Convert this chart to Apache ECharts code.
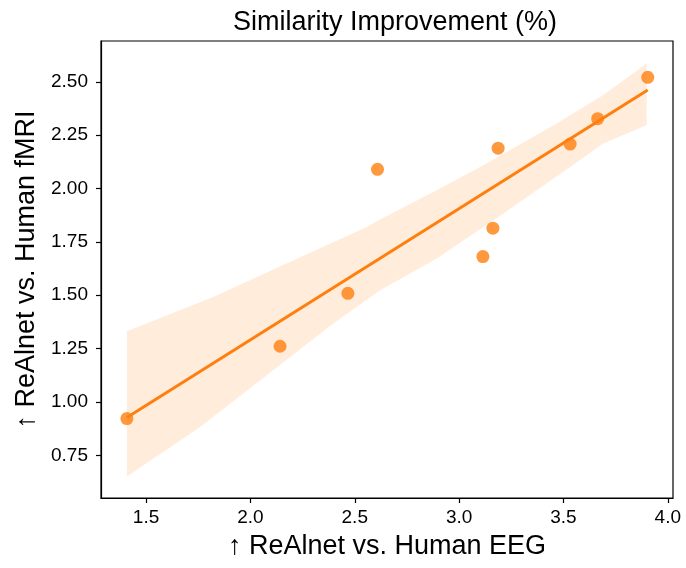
<!DOCTYPE html>
<html>
<head>
<meta charset="utf-8">
<script src="https://cdn.jsdelivr.net/npm/echarts@6/dist/echarts.min.js"></script>
<style>
  html, body { margin: 0; padding: 0; background: #fff; }
  #chart { width: 686px; height: 568px; }
</style>
</head>
<body>
<div id="chart"></div>
<script>
// scatter points (EEG improvement, fMRI improvement)
const eegX = [1.408, 2.142, 2.467, 2.609, 3.187, 3.162, 3.114, 3.532, 3.664, 3.904];
const fmriY = [0.922, 1.261, 1.509, 2.090, 2.189, 1.814, 1.681, 2.208, 2.327, 2.521];

// fitted line endpoints
const fitX = [1.408, 3.904];
const fitY = [0.927, 2.461];

// confidence band edges
const bandUpperX = [1.408, 1.822, 2.110, 2.558, 2.621, 2.893, 3.116, 3.468, 3.691, 3.899];
const bandUpperY = [1.331, 1.492, 1.620, 1.820, 1.855, 1.992, 2.109, 2.305, 2.438, 2.586];
const bandLowerX = [1.408, 1.759, 2.078, 2.397, 2.621, 2.893, 3.212, 3.532, 3.691, 3.899];
const bandLowerY = [0.651, 0.883, 1.125, 1.367, 1.523, 1.672, 1.883, 2.101, 2.211, 2.297];

const xTicks = [1.5, 2.0, 2.5, 3.0, 3.5, 4.0];
const yTicks = [0.75, 1.00, 1.25, 1.50, 1.75, 2.00, 2.25, 2.50];

const orange = '#ff7f0e';
const font = 'Liberation Sans, Arial, sans-serif';

const bandPts = [];
for (let i = 0; i < bandUpperX.length; i++) bandPts.push([bandUpperX[i], bandUpperY[i]]);
for (let i = bandLowerX.length - 1; i >= 0; i--) bandPts.push([bandLowerX[i], bandLowerY[i]]);

const chart = echarts.init(document.getElementById('chart'));
chart.setOption({
  animation: false,
  title: {
    text: 'Similarity Improvement (%)',
    left: 390, top: 4, textAlign: 'center',
    textStyle: { fontFamily: font, fontSize: 27, fontWeight: 'normal', color: '#000' }
  },
  grid: { left: 101, top: 41, right: 13, bottom: 70, show: true, borderColor: '#000', borderWidth: 1.2 },
  xAxis: {
    type: 'value', min: 1.284, max: 4.025,
    name: '↑ ReAlnet vs. Human EEG', nameLocation: 'middle', nameGap: 35,
    nameTextStyle: { fontFamily: font, fontSize: 27, color: '#000' },
    splitLine: { show: false },
    axisLine: { show: true, lineStyle: { color: '#000', width: 1.2 } },
    axisTick: { show: true, customValues: xTicks, length: 5, lineStyle: { color: '#000', width: 1.2 } },
    axisLabel: { customValues: xTicks, formatter: v => v.toFixed(1), fontFamily: font, fontSize: 19, color: '#000', margin: 10 }
  },
  yAxis: {
    type: 'value', min: 0.55, max: 2.691,
    name: '↑ ReAlnet vs. Human fMRI', nameLocation: 'middle', nameGap: 61,
    nameTextStyle: { fontFamily: font, fontSize: 27, color: '#000' },
    splitLine: { show: false },
    axisLine: { show: true, lineStyle: { color: '#000', width: 1.2 } },
    axisTick: { show: true, customValues: yTicks, length: 5, lineStyle: { color: '#000', width: 1.2 } },
    axisLabel: { customValues: yTicks, formatter: v => v.toFixed(2), fontFamily: font, fontSize: 19, color: '#000', margin: 13 }
  },
  series: [
    {
      type: 'custom',
      data: [0],
      silent: true,
      z: 1,
      renderItem: (params, api) => ({
        type: 'polygon',
        shape: { points: bandPts.map(p => api.coord(p)) },
        style: { fill: 'rgba(255,127,14,0.15)', stroke: 'none' }
      })
    },
    {
      type: 'line',
      data: fitX.map((x, i) => [x, fitY[i]]),
      symbol: 'none',
      lineStyle: { color: orange, width: 3 },
      z: 2
    },
    {
      type: 'scatter',
      data: eegX.map((x, i) => [x, fmriY[i]]),
      symbolSize: 13,
      itemStyle: { color: orange, opacity: 0.8 },
      z: 3
    }
  ]
});
</script>
</body>
</html>
